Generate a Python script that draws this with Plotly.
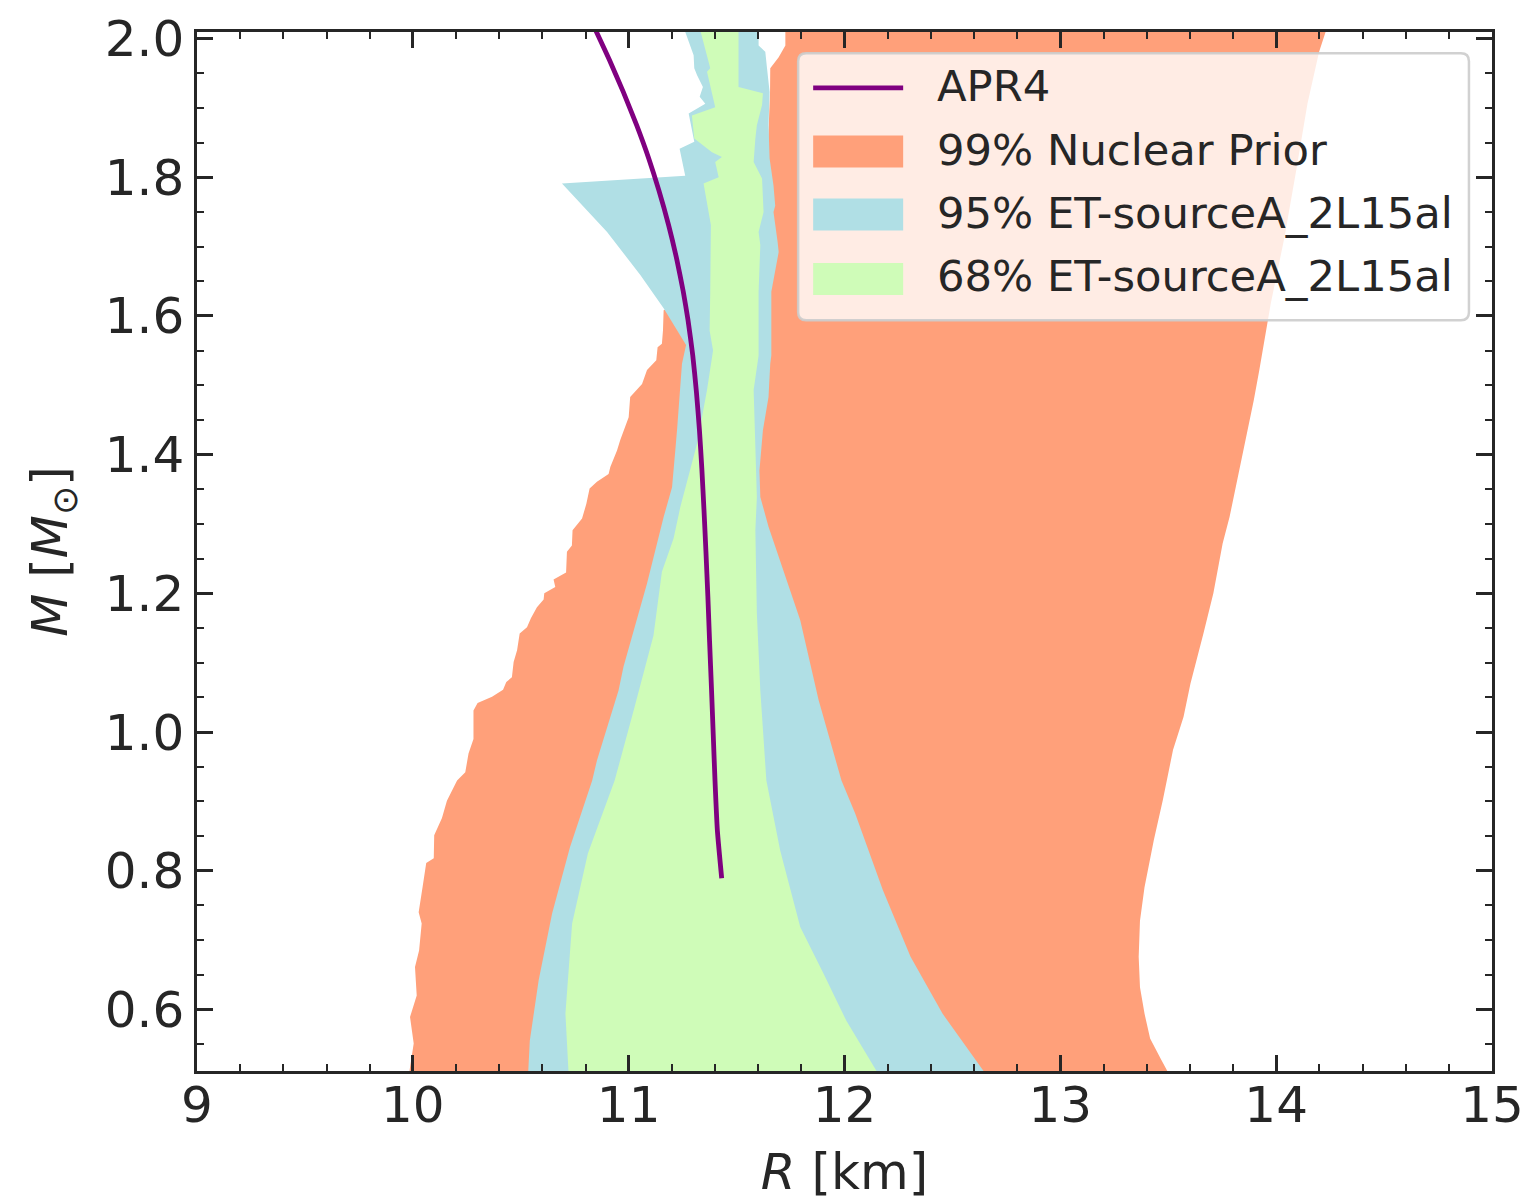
import plotly.graph_objects as go

# ---------------- data ----------------
# 99% Nuclear Prior: left boundary (bottom -> top), right boundary (top -> bottom)
prior_left_M = [0.50, 0.551, 0.589, 0.620, 0.661, 0.685, 0.724, 0.740, 0.776, 0.811, 0.818, 0.851,
                0.876, 0.901, 0.930, 0.942, 0.969, 0.990, 1.031, 1.042, 1.051, 1.061, 1.072, 1.079,
                1.101, 1.118, 1.142, 1.151, 1.164, 1.180, 1.191, 1.200, 1.209, 1.220, 1.230, 1.260,
                1.269, 1.291, 1.308, 1.329, 1.351, 1.361, 1.372, 1.382, 1.406, 1.421, 1.454, 1.483,
                1.502, 1.522, 1.536, 1.555, 1.560, 1.579, 1.608, 1.650, 1.720, 1.923, 1.957, 1.973,
                1.990, 2.02]
prior_left_R = [9.979, 10.004, 9.987, 10.018, 10.010, 10.029, 10.041, 10.027, 10.045, 10.062, 10.097, 10.099,
                10.135, 10.158, 10.205, 10.243, 10.258, 10.281, 10.281, 10.300, 10.367, 10.418, 10.433, 10.459,
                10.467, 10.483, 10.495, 10.529, 10.547, 10.575, 10.606, 10.609, 10.660, 10.652, 10.710, 10.714,
                10.737, 10.740, 10.784, 10.804, 10.819, 10.853, 10.907, 10.915, 10.946, 10.961, 11.000, 11.007,
                11.062, 11.085, 11.128, 11.134, 11.154, 11.159, 11.162, 11.500, 11.630, 11.655, 11.656, 11.695,
                11.726, 11.726]
prior_right_M = [2.02, 1.981, 1.906, 1.810, 1.714, 1.618, 1.522, 1.478, 1.310, 1.272, 1.200, 1.142,
                 1.070, 1.022, 0.974, 0.902, 0.844, 0.776, 0.728, 0.676, 0.632, 0.594, 0.558, 0.529, 0.50]
prior_right_R = [14.240, 14.199, 14.145, 14.093, 14.039, 13.975, 13.922, 13.896, 13.784, 13.752, 13.709, 13.663,
                 13.603, 13.571, 13.522, 13.475, 13.433, 13.390, 13.369, 13.363, 13.369, 13.390, 13.416, 13.465, 13.515]

# 95% ET-sourceA_2L15al
c95_left_M = [0.50, 0.555, 0.642, 0.738, 0.834, 0.930, 0.959, 1.060, 1.094, 1.214, 1.310, 1.353, 1.406,
              1.435, 1.531, 1.558, 1.611, 1.659, 1.721, 1.791, 1.802, 1.841, 1.851, 1.892, 1.906, 1.916,
              1.930, 1.947, 1.957, 1.976, 2.02]
c95_left_R = [10.533, 10.542, 10.583, 10.645, 10.728, 10.831, 10.853, 10.953, 10.976, 11.085, 11.162, 11.201, 11.216,
              11.224, 11.247, 11.266, 11.162, 11.054, 10.900, 10.691, 11.262, 11.236, 11.304, 11.278, 11.355, 11.329,
              11.344, 11.317, 11.304, 11.301, 11.250]
c95_right_M = [2.02, 1.990, 1.981, 1.957, 1.923, 1.875, 1.827, 1.788, 1.759, 1.750, 1.707, 1.692, 1.635,
               1.543, 1.531, 1.483, 1.435, 1.377, 1.339, 1.296, 1.161, 1.046, 0.930, 0.882, 0.772, 0.676,
               0.594, 0.50]
c95_right_R = [11.602, 11.602, 11.633, 11.641, 11.653, 11.648, 11.653, 11.671, 11.679, 11.671, 11.690, 11.695, 11.661,
               11.661, 11.656, 11.648, 11.622, 11.606, 11.610, 11.648, 11.795, 11.880, 11.986, 12.050, 12.178, 12.306,
               12.454, 12.670]

# 68% ET-sourceA_2L15al
c68_left_M = [0.50, 0.594, 0.724, 0.825, 0.930, 1.031, 1.139, 1.231, 1.279, 1.324, 1.416, 1.493, 1.550,
              1.579, 1.635, 1.731, 1.791, 1.800, 1.822, 1.829, 1.836, 1.856, 1.889, 1.901, 1.952, 1.957, 2.02]
c68_left_R = [10.723, 10.707, 10.738, 10.811, 10.935, 11.023, 11.115, 11.154, 11.208, 11.239, 11.317, 11.363, 11.391,
              11.375, 11.378, 11.381, 11.347, 11.417, 11.401, 11.432, 11.386, 11.304, 11.293, 11.401, 11.363, 11.378, 11.325]
c68_right_M = [2.02, 1.930, 1.921, 1.904, 1.875, 1.856, 1.822, 1.798, 1.750, 1.721, 1.702, 1.635, 1.543,
               1.493, 1.339, 1.291, 1.171, 1.060, 0.930, 0.829, 0.719, 0.652, 0.584, 0.50]
c68_right_R = [11.509, 11.509, 11.622, 11.618, 11.594, 11.587, 11.579, 11.618, 11.625, 11.602, 11.610, 11.602, 11.602,
               11.579, 11.594, 11.587, 11.594, 11.610, 11.638, 11.702, 11.795, 11.902, 12.008, 12.170]

# APR4 mass-radius curve
apr4_M = [2.02, 1.969, 1.923, 1.875, 1.827, 1.781, 1.731, 1.680, 1.635, 1.594, 1.543, 1.490, 1.435,
          1.380, 1.320, 1.260, 1.195, 1.130, 1.060, 0.995, 0.930, 0.858, 0.789]
apr4_R = [10.835, 10.911, 10.975, 11.037, 11.093, 11.140, 11.185, 11.224, 11.253, 11.275, 11.297, 11.314, 11.328,
          11.339, 11.349, 11.358, 11.367, 11.375, 11.384, 11.392, 11.400, 11.411, 11.431]

# legend entries
legend_labels = ["APR4", "99% Nuclear Prior", "95% ET-sourceA_2L15al", "68% ET-sourceA_2L15al"]

# axis settings
x_range = [9, 15]
y_range = [0.5112, 2.0094]
x_ticks = [9, 10, 11, 12, 13, 14, 15]
y_ticks = [0.6, 0.8, 1.0, 1.2, 1.4, 1.6, 1.8, 2.0]

# ---------------- figure ----------------
ink = "#262626"
font_family = "DejaVu Sans"
c_prior, c_95, c_68, c_apr4 = "#FFA07A", "#B0DFE5", "#CFFCB8", "#800080"

def band(left_R, left_M, right_R, right_M):
    return list(left_R) + list(right_R), list(left_M) + list(right_M)

fig = go.Figure()

bx, by = band(prior_left_R, prior_left_M, prior_right_R, prior_right_M)
fig.add_trace(go.Scatter(x=bx, y=by, fill="toself", fillcolor=c_prior, mode="none",
                         name=legend_labels[1], hoverinfo="skip"))
bx, by = band(c95_left_R, c95_left_M, c95_right_R, c95_right_M)
fig.add_trace(go.Scatter(x=bx, y=by, fill="toself", fillcolor=c_95, mode="none",
                         name=legend_labels[2], hoverinfo="skip"))
bx, by = band(c68_left_R, c68_left_M, c68_right_R, c68_right_M)
fig.add_trace(go.Scatter(x=bx, y=by, fill="toself", fillcolor=c_68, mode="none",
                         name=legend_labels[3], hoverinfo="skip"))
fig.add_trace(go.Scatter(x=apr4_R, y=apr4_M, mode="lines", name=legend_labels[0],
                         line=dict(color=c_apr4, width=4.8, shape="spline", smoothing=0.5)))

axis_common = dict(
    showline=True, linecolor=ink, linewidth=2.5, mirror="ticks",
    ticks="inside", ticklen=16, tickwidth=2.5, tickcolor=ink,
    showgrid=False, zeroline=False, automargin=False,
    tickfont=dict(family=font_family, size=50, color=ink),
)

fig.update_xaxes(range=x_range, tickvals=x_ticks, ticktext=[str(v) for v in x_ticks],
                 minor=dict(dtick=0.2, ticks="inside", ticklen=7, tickwidth=2, tickcolor=ink, showgrid=False),
                 ticklabelstandoff=-12,
                 title=dict(text="<i>R</i> [km]", font=dict(family=font_family, size=50, color=ink), standoff=22),
                 **axis_common)
fig.update_yaxes(range=y_range, tickvals=y_ticks, ticktext=[f"{v:.1f}" for v in y_ticks],
                 minor=dict(dtick=0.05, tick0=0.5, ticks="inside", ticklen=7, tickwidth=2, tickcolor=ink, showgrid=False),
                 title=dict(text="<i>M</i> [<i>M</i><sub>⊙</sub>]", font=dict(family=font_family, size=50, color=ink), standoff=22),
                 **axis_common)

# ---- legend box drawn in paper coordinates (matplotlib-style frame) ----
W, H = 1295.3, 1039.0          # plot area size in px (for paper-unit conversion)
bx0, bx1, by0, by1 = 0.4642, 0.9822, 0.7225, 0.9795
rx, ry = 8 / W, 8 / H
box_path = (f"M{bx0+rx},{by0} L{bx1-rx},{by0} Q{bx1},{by0} {bx1},{by0+ry} "
            f"L{bx1},{by1-ry} Q{bx1},{by1} {bx1-rx},{by1} L{bx0+rx},{by1} "
            f"Q{bx0},{by1} {bx0},{by1-ry} L{bx0},{by0+ry} Q{bx0},{by0} {bx0+rx},{by0} Z")
shapes = [dict(type="path", xref="paper", yref="paper", path=box_path,
               fillcolor="rgba(255,255,255,0.8)", line=dict(color="rgba(204,204,204,0.9)", width=2.5),
               layer="above")]
sw_x0, sw_x1 = 0.4758, 0.5453
row_y = [0.9463, 0.8851, 0.8244, 0.7622]
text_y = [0.9478, 0.8865, 0.8258, 0.7655]
shapes.append(dict(type="line", xref="paper", yref="paper", x0=sw_x0, x1=sw_x1,
                   y0=row_y[0], y1=row_y[0], line=dict(color=c_apr4, width=4.8), layer="above"))
half_h = 16 / H
for yc, col in zip(row_y[1:], [c_prior, c_95, c_68]):
    shapes.append(dict(type="rect", xref="paper", yref="paper", x0=sw_x0, x1=sw_x1,
                       y0=yc - half_h, y1=yc + half_h, fillcolor=col, line=dict(width=0), layer="above"))

annotations = [dict(text=lab, xref="paper", yref="paper", x=0.5695, y=yt,
                    xanchor="left", yanchor="middle", showarrow=False,
                    font=dict(family=font_family, size=43.3, color=ink))
               for lab, yt in zip(legend_labels, text_y)]

fig.update_layout(
    width=1531, height=1202,
    margin=dict(l=197, r=39, t=32, b=131),
    plot_bgcolor="white", paper_bgcolor="white",
    font=dict(family=font_family, color=ink),
    showlegend=False,
    shapes=shapes,
    annotations=annotations,
)

fig.write_html("out.html")
